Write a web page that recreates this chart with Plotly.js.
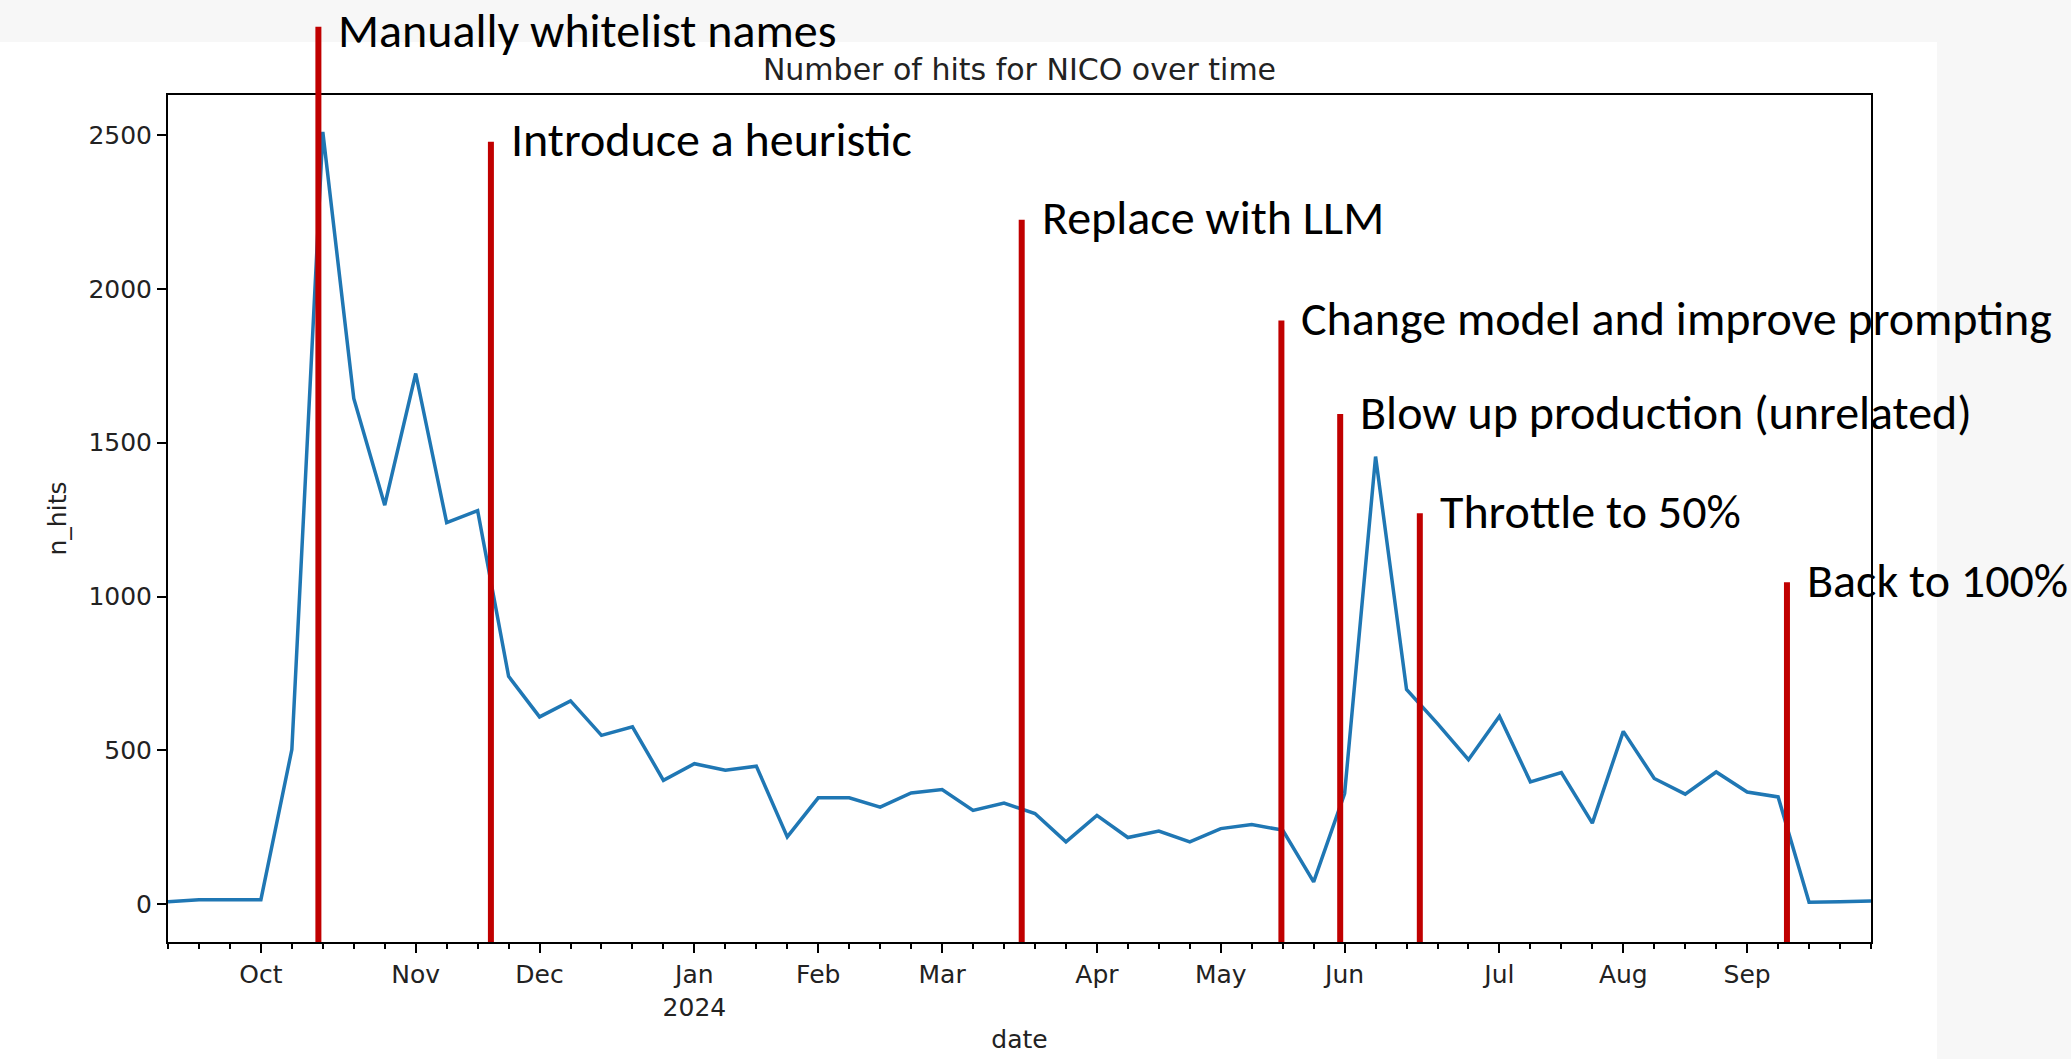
<!DOCTYPE html>
<html>
<head>
<meta charset="utf-8">
<script src="https://cdn.plot.ly/plotly-3.0.1.min.js"></script>
<style>
  html, body { margin: 0; padding: 0; background: #f7f7f7; width: 2071px; height: 1059px; overflow: hidden; }
  #sheet { position: absolute; left: 0; top: 42px; width: 1937px; height: 1017px; background: #ffffff; }
  #chart { position: absolute; left: 0; top: 0; width: 2071px; height: 1059px; }
</style>
</head>
<body>
<div id="sheet"></div>
<div id="chart"></div>
<script>
// ---- data ----
const weeks = [
  '2023-09-10','2023-09-17','2023-09-24','2023-10-01','2023-10-08','2023-10-15','2023-10-22','2023-10-29',
  '2023-11-05','2023-11-12','2023-11-19','2023-11-26','2023-12-03','2023-12-10','2023-12-17','2023-12-24',
  '2023-12-31','2024-01-07','2024-01-14','2024-01-21','2024-01-28','2024-02-04','2024-02-11','2024-02-18',
  '2024-02-25','2024-03-03','2024-03-10','2024-03-17','2024-03-24','2024-03-31','2024-04-07','2024-04-14',
  '2024-04-21','2024-04-28','2024-05-05','2024-05-12','2024-05-19','2024-05-26','2024-06-02','2024-06-09',
  '2024-06-16','2024-06-23','2024-06-30','2024-07-07','2024-07-14','2024-07-21','2024-07-28','2024-08-04',
  '2024-08-11','2024-08-18','2024-08-25','2024-09-01','2024-09-08','2024-09-15','2024-09-22','2024-09-29'
];
const nHits = [
  8, 15, 15, 15, 503, 2510, 1644, 1297,
  1725, 1240, 1279, 741, 609, 661, 549, 577,
  403, 457, 436, 449, 219, 346, 346, 316,
  362, 373, 305, 329, 295, 203, 289, 217,
  238, 203, 246, 259, 241, 73, 360, 1455,
  698, 587, 470, 611, 398, 428, 264, 562,
  409, 358, 430, 365, 349, 7, 8, 11
];
const monthTickDates = ['2023-10-01','2023-11-05','2023-12-03','2024-01-07','2024-02-04','2024-03-03',
                        '2024-04-07','2024-05-05','2024-06-02','2024-07-07','2024-08-04','2024-09-01'];
const monthTickLabels = ['Oct','Nov','Dec','Jan<br>2024','Feb','Mar','Apr','May','Jun','Jul','Aug','Sep'];
const yTicks = [0, 500, 1000, 1500, 2000, 2500];

const eventDates = ['2023-10-14','2023-11-22','2024-03-21','2024-05-18 17:00','2024-06-01','2024-06-19','2024-09-10'];
const eventLabels = ['Manually whitelist names','Introduce a heuristic','Replace with LLM',
                     'Change model and improve prompting','Blow up production (unrelated)',
                     'Throttle to 50%','Back to 100%'];

// ---- layout-only positions (paper fraction of the plot height) ----
const lineTops = [1.0806, 0.9448, 0.8528, 0.7337, 0.6233, 0.5063, 0.4248];
const paperTopEdge = 942 / 847;   // top edge of the page in paper units

const mpFont = 'DejaVu Sans';
const noteFont = 'Carlito, Lato, sans-serif';
const red = '#c00000';

const shapes = eventDates.map((d, i) => ({
  type: 'line', xref: 'x', yref: 'paper',
  x0: d, x1: d, y0: 0, y1: lineTops[i],
  line: {color: red, width: 6}, layer: 'above'
}));
const annotations = eventDates.map((d, i) => {
  const first = (i === 0);
  return {
    xref: 'x', yref: 'paper', x: d,
    y: first ? paperTopEdge : lineTops[i],
    xanchor: 'left', yanchor: first ? 'top' : 'middle',
    xshift: 19, yshift: first ? 0 : 2, borderpad: 0,
    text: eventLabels[i], showarrow: false,
    font: {family: noteFont, size: 48, color: '#000000'}
  };
});

const trace = {
  x: weeks, y: nHits, type: 'scatter', mode: 'lines',
  line: {color: '#1f77b4', width: 3.5}, hoverinfo: 'x+y'
};

const layout = {
  width: 2071, height: 1059,
  margin: {l: 168, r: 200, t: 95, b: 117, pad: 0},
  paper_bgcolor: 'rgba(0,0,0,0)', plot_bgcolor: '#ffffff',
  showlegend: false,
  title: {
    text: 'Number of hits for NICO over time',
    font: {family: mpFont, size: 30, color: '#222222'},
    xref: 'paper', x: 0.5, xanchor: 'center',
    yref: 'container', y: 1 - 69/1059, yanchor: 'middle'
  },
  xaxis: {
    type: 'date', range: ['2023-09-10', '2024-09-29'],
    tickmode: 'array', tickvals: monthTickDates, ticktext: monthTickLabels,
    ticks: 'outside', ticklen: 9, tickwidth: 2, tickcolor: '#000000',
    tickfont: {family: mpFont, size: 25, color: '#222222'},
    showline: true, linecolor: '#000000', linewidth: 2, mirror: true,
    showgrid: false, zeroline: false,
    minor: {tick0: '2023-09-10', dtick: 7*24*3600*1000, ticks: 'outside', ticklen: 5, tickwidth: 2, tickcolor: '#000000', showgrid: false},
    title: {text: 'date', font: {family: mpFont, size: 25, color: '#222222'}, standoff: 10}
  },
  yaxis: {
    range: [-122.5, 2630],
    tickmode: 'array', tickvals: yTicks,
    ticks: 'outside', ticklen: 9, tickwidth: 2, tickcolor: '#000000',
    tickfont: {family: mpFont, size: 25, color: '#222222'},
    showline: true, linecolor: '#000000', linewidth: 2, mirror: true,
    showgrid: false, zeroline: false,
    title: {text: 'n_hits', font: {family: mpFont, size: 25, color: '#222222'}, standoff: 15}
  },
  shapes: shapes,
  annotations: annotations
};

Plotly.newPlot('chart', [trace], layout, {displayModeBar: false, staticPlot: true});
</script>
</body>
</html>
